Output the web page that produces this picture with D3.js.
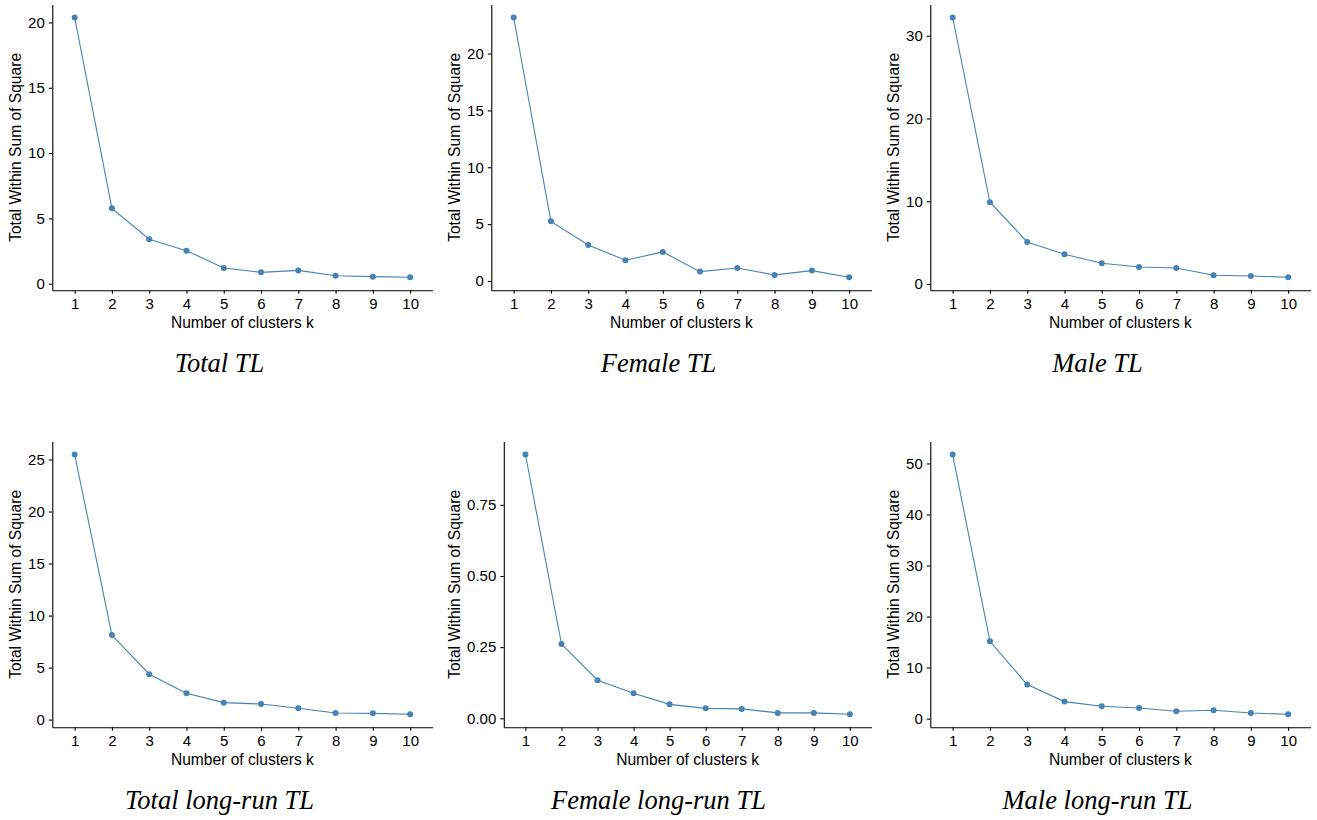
<!DOCTYPE html>
<html>
<head>
<meta charset="utf-8">
<script src="https://cdn.jsdelivr.net/npm/d3@7"></script>
<style>
  body { margin: 0; background: #fff; }
  svg { display: block; }
  .axis text { font-family: "Liberation Sans", Arial, sans-serif; font-size: 15px; fill: #000; }
  .axis path, .axis line { stroke: #000; stroke-width: 1.1; }
  .axis-title { font-family: "Liberation Sans", Arial, sans-serif; font-size: 15.6px; fill: #000; }
  .caption { font-family: "Palatino Linotype", "Book Antiqua", Palatino, "Liberation Serif", serif; font-style: italic; font-size: 26.5px; fill: #000; }
</style>
</head>
<body>
<div id="chart"></div>
<script>
// k = 1..10
const kValues = [1, 2, 3, 4, 5, 6, 7, 8, 9, 10];

// total within sum of squares
const totalTL = [20.38, 5.77, 3.40, 2.53, 1.20, 0.87, 1.02, 0.61, 0.54, 0.49];
const femaleTL = [23.17, 5.24, 3.16, 1.82, 2.55, 0.82, 1.14, 0.53, 0.91, 0.32];
const maleTL = [32.2, 9.88, 5.08, 3.59, 2.50, 2.06, 1.94, 1.05, 0.97, 0.81];
const totalLongRun = [25.48, 8.13, 4.36, 2.53, 1.63, 1.50, 1.09, 0.64, 0.60, 0.51];
const femaleLongRun = [0.927, 0.261, 0.134, 0.088, 0.049, 0.035, 0.033, 0.019, 0.019, 0.014];
const maleLongRun = [51.76, 15.16, 6.67, 3.33, 2.41, 2.08, 1.43, 1.63, 1.10, 0.84];

// y tick labels per panel
const totalTLTicks = [0, 5, 10, 15, 20];
const femaleTLTicks = [0, 5, 10, 15, 20];
const maleTLTicks = [0, 10, 20, 30];
const totalLongRunTicks = [0, 5, 10, 15, 20, 25];
const femaleLongRunTicks = [0, 0.25, 0.5, 0.75];
const maleLongRunTicks = [0, 10, 20, 30, 40, 50];

const captions = ["Total TL", "Female TL", "Male TL", "Total long-run TL", "Female long-run TL", "Male long-run TL"];

const panels = [
  { values: totalTL, ticks: totalTLTicks, fmt: d3.format("d") },
  { values: femaleTL, ticks: femaleTLTicks, fmt: d3.format("d") },
  { values: maleTL, ticks: maleTLTicks, fmt: d3.format("d") },
  { values: totalLongRun, ticks: totalLongRunTicks, fmt: d3.format("d") },
  { values: femaleLongRun, ticks: femaleLongRunTicks, fmt: d3.format(".2f") },
  { values: maleLongRun, ticks: maleLongRunTicks, fmt: d3.format("d") }
];

const width = 1317, height = 820;
const cellW = 439, rowH = 437;
const plotTop = 4.5, plotH = 285.8;
const lineColor = "steelblue";

const svg = d3.select("#chart")
  .append("svg")
  .attr("width", width)
  .attr("height", height);

panels.forEach((p, i) => {
  const cellX = (i % 3) * cellW;
  const cellY = Math.floor(i / 3) * rowH;
  const g = svg.append("g").attr("transform", "translate(" + cellX + "," + cellY + ")");

  // measure widest tick label so the y axis sits like in ggplot
  const probe = g.append("g").attr("class", "axis");
  let labelW = 0;
  p.ticks.forEach(t => {
    const tx = probe.append("text").text(p.fmt(t));
    labelW = Math.max(labelW, tx.node().getComputedTextLength());
  });
  probe.remove();

  const left = 20 + 15.6 + labelW;
  const right = 432.5;

  const x = d3.scalePoint()
    .domain(kValues)
    .range([left, right])
    .padding(0.6);

  // ggplot style 5% expansion around the data
  const ext = d3.extent(p.values);
  const pad = (ext[1] - ext[0]) * 0.05;
  const y = d3.scaleLinear()
    .domain([ext[0] - pad, ext[1] + pad])
    .range([plotTop + plotH, plotTop]);

  g.append("g")
    .attr("class", "axis")
    .attr("transform", "translate(0," + (plotTop + plotH) + ")")
    .call(d3.axisBottom(x).tickSize(3.5).tickPadding(4.5).tickSizeOuter(0));

  g.append("g")
    .attr("class", "axis")
    .attr("transform", "translate(" + left + ",0)")
    .call(d3.axisLeft(y).tickValues(p.ticks).tickFormat(p.fmt).tickSize(3.5).tickPadding(4).tickSizeOuter(0));

  // axis titles
  g.append("text")
    .attr("class", "axis-title")
    .attr("x", (left + right) / 2)
    .attr("y", 327.5)
    .attr("text-anchor", "middle")
    .text("Number of clusters k");

  g.append("text")
    .attr("class", "axis-title")
    .attr("transform", "translate(20.5," + (plotTop + plotH / 2) + ") rotate(-90)")
    .attr("text-anchor", "middle")
    .text("Total Within Sum of Square");

  const line = d3.line()
    .x((d, j) => x(kValues[j]))
    .y(d => y(d));

  g.append("path")
    .datum(p.values)
    .attr("fill", "none")
    .attr("stroke", lineColor)
    .attr("stroke-width", 1.1)
    .attr("d", line);

  g.selectAll(".dot")
    .data(p.values)
    .enter()
    .append("circle")
    .attr("class", "dot")
    .attr("cx", (d, j) => x(kValues[j]))
    .attr("cy", d => y(d))
    .attr("r", 3)
    .attr("fill", lineColor);

  // subfigure caption
  g.append("text")
    .attr("class", "caption")
    .attr("x", cellW / 2)
    .attr("y", 371.5)
    .attr("text-anchor", "middle")
    .text(captions[i]);
});
</script>
</body>
</html>
